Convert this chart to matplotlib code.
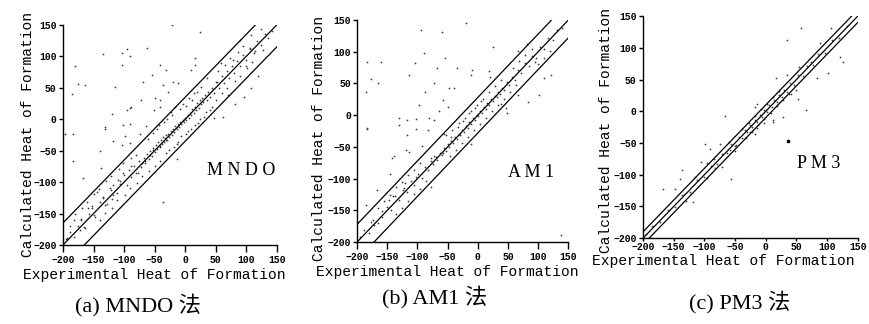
import matplotlib
matplotlib.use("Agg")
import matplotlib.pyplot as plt

plt.rcParams['font.family'] = ['Liberation Mono', 'DejaVu Sans Mono']

tick_vals = [-200, -150, -100, -50, 0, 50, 100, 150]
methods = ["MNDO", "AM1", "PM3"]
captions = ["(a) MNDO 法", "(b) AM1 法", "(c) PM3 法"]
# half widths of the error band (kcal/mol)
band_width = [35, 28, 10]

# ---- MNDO points (experimental, calculated) ----
mndo_pts = [
    (-22, 150), (24, 138), (-180, 84), (-134, 104), (-104, 106), (-96, 111), (-91, 101),
    (-62, 114), (-104, 86), (-175, 56), (-164, 54), (-185, 40), (-115, 52), (-69, 60),
    (-55, 71), (-31, 78), (-41, 86), (-20, 60), (-11, 58), (-36, 55), (-28, 44),
    (-73, 30), (-50, 33), (-41, 31), (-91, 18), (-96, 15), (-88, 19), (-119, 9),
    (-101, -9), (-91, -7), (-131, -12), (-131, -16), (-183, -23), (-64, -11), (-51, 14),
    (-41, 19), (16, 97), (16, 86), (10, 78), (59, 90), (78, 94), (100, 84), (114, 108),
    (108, 134), (124, 143), (119, 68), (108, 49), (97, 35), (81, 24), (62, 3), (48, 2),
    (35, 65), (51, 60), (70, 39), (106, 113), (127, 110), (89, 126),
    (-197, -23), (-183, -66), (-168, -94), (-139, -51), (-118, -34), (-104, -41), (-99, -27),
    (-91, -38), (-74, -23), (-80, -57), (-137, -78), (-144, -115), (-123, -110), (-119, -127),
    (-131, -136), (-182, -161), (-170, -159), (-189, -170), (-159, -142), (-153, -138),
    (-101, -86), (-88, -75), (-77, -86), (-66, -67), (-52, -49), (-41, -43), (-36, -131),
    (-14, -64), (-31, -33), (-71, -70), (-58, -57), (-110, -97), (-107, -103), (-118, -120),
    (-150, -152), (-172, -176), (-164, -173), (-194, -189), (-134, -123),
    (-195, -190), (-188, -180), (-182, -188), (-176, -170), (-170, -160), (-165, -172),
    (-158, -150), (-152, -141), (-147, -155), (-140, -132), (-135, -126), (-128, -135),
    (-122, -112), (-118, -105), (-112, -118), (-106, -98), (-100, -89), (-96, -104),
    (-92, -81), (-88, -92), (-84, -74), (-80, -86), (-76, -66), (-72, -76), (-68, -61),
    (-66, -70), (-62, -55), (-60, -64), (-57, -51), (-55, -58), (-52, -45), (-50, -52),
    (-48, -41), (-46, -48), (-44, -37), (-42, -44), (-40, -33), (-38, -40), (-36, -29),
    (-35, -36), (-33, -30), (-31, -25), (-30, -33), (-28, -23), (-26, -28), (-24, -19),
    (-22, -25), (-20, -15), (-18, -20), (-16, -11), (-14, -16), (-12, -8), (-10, -12),
    (-8, -4), (-6, -8), (-4, -2), (-2, -5), (0, 2), (2, -2), (4, 6), (6, 2), (8, 10),
    (10, 6), (12, 16), (14, 10), (16, 20), (18, 14), (20, 26), (22, 18), (24, 30), (26, 24),
    (28, 34), (30, 28), (32, 38), (35, 30), (38, 44), (40, 36), (44, 50), (48, 42), (52, 60),
    (56, 50), (60, 68), (64, 58), (68, 76), (72, 66), (76, 84), (80, 74), (85, 92), (90, 84),
    (95, 102), (100, 94), (106, 112), (112, 106), (118, 124), (124, 118), (130, 136),
    (136, 130), (142, 140),
    (-61, -31), (-52, -22), (-43, -9), (-29, 1), (-21, 6), (-9, 16), (1, 21), (11, 31),
    (19, 44), (-71, -91), (-59, -83), (-49, -74), (-41, -66), (-31, -54), (-19, -44),
    (-11, -36), (1, -24), (9, -16), (21, -6), (31, 4), (41, 14), (-46, -16), (-34, -4),
    (-24, 11), (-16, 19), (-4, 24), (6, 33), (14, 41), (26, 51), (-26, -49), (-14, -39),
    (-6, -27), (4, -19), (16, -9), (24, 1), (34, 11), (44, 19), (51, 31), (61, 41), (69, 49),
    (81, 61), (89, 69), (101, 81), (109, 91), (54, 76), (66, 87), (74, 97), (86, 107),
    (94, 116), (-89, -61), (-101, -69), (-109, -79), (-121, -91), (-129, -99), (-141, -111),
    (-149, -119), (-161, -131), (-169, -141), (-181, -151), (-79, -101), (-91, -109),
    (-99, -121), (-111, -129), (-119, -141), (-131, -149), (-139, -161),
]

# ---- AM1 points ----
am1_pts = [
    (-20, 146), (-95, 134), (-60, 132), (25, 108), (-90, 98), (-183, 84), (-161, 84),
    (-104, 83), (-55, 91), (-67, 75), (-114, 63), (-35, 75), (-10, 71), (-11, 64),
    (-177, 57), (-165, 50), (-72, 50), (-47, 43), (-40, 43), (-87, 36), (-186, 36),
    (-58, 24), (-97, 16), (-50, 13), (-131, -5), (-118, -8), (-103, -6), (-81, -5),
    (-73, -8), (-64, 6), (-130, -15), (-183, -20), (19, 70), (21, 61), (81, 112), (66, 101),
    (94, 84), (110, 58), (121, 64), (102, 32), (83, 21), (66, 32), (49, 3), (38, 17), (47, 11),
    (-183, -21), (-103, -22), (-83, -23), (-117, -32), (-56, -30), (-139, -65), (-143, -68),
    (-119, -55), (-114, -58), (-145, -93), (-92, -48), (-78, -68), (-103, -97), (-78, -113),
    (-121, -107), (-122, -115), (-167, -118), (-185, -142), (-141, -128), (-147, -134),
    (-172, -173), (-177, -168), (-158, -160), (-11, -46), (-45, -34), (138, -189),
    (-58, -60), (-72, -65),
    (-196, -192), (-189, -181), (-181, -186), (-173, -166), (-166, -170), (-158, -151),
    (-151, -145), (-144, -150), (-137, -128), (-130, -134), (-124, -118), (-117, -121),
    (-111, -104), (-105, -110), (-99, -92), (-93, -99), (-88, -82), (-83, -87), (-78, -73),
    (-74, -77), (-70, -66), (-67, -70), (-63, -59), (-60, -63), (-56, -52), (-53, -56),
    (-50, -46), (-47, -50), (-44, -40), (-41, -44), (-38, -35), (-35, -38), (-32, -29),
    (-29, -32), (-26, -23), (-23, -26), (-20, -17), (-17, -20), (-14, -11), (-11, -14),
    (-8, -5), (-5, -8), (-2, 1), (1, -2), (4, 7), (7, 4), (10, 13), (13, 10), (16, 19),
    (19, 16), (22, 25), (25, 22), (28, 31), (31, 28), (34, 37), (37, 34), (40, 43), (44, 40),
    (48, 52), (52, 47), (57, 61), (62, 56), (67, 71), (72, 66), (78, 82), (84, 78), (90, 94),
    (96, 90), (103, 107), (110, 104), (117, 121), (124, 118), (132, 134), (140, 137),
    (-52, -32), (-42, -24), (-31, -12), (-21, -4), (-11, 6), (-1, 16), (9, 26), (19, 36),
    (29, 46), (39, 55), (-46, -64), (-36, -55), (-26, -44), (-16, -35), (-6, -24), (4, -14),
    (14, -4), (24, 6), (34, 16), (44, 26), (54, 36), (64, 47), (59, 74), (69, 86), (79, 95),
    (89, 104), (99, 80), (109, 90), (119, 101), (-96, -75), (-106, -86), (-116, -95),
    (-126, -106), (-136, -114), (-146, -126), (-156, -136), (-166, -146), (-86, -104),
    (-96, -116), (-106, -125), (-116, -135), (-126, -146), (-136, -156), (-33, -18),
    (-24, -9), (-14, 3), (-4, 12), (6, 22),
]

# ---- PM3 points ----
pm3_pts = [
    (35, 113), (107, 131), (121, 86), (126, 78), (102, 60), (83, 53), (88, 107), (74, 78),
    (55, 70), (65, 2), (50, 33), (53, 20), (42, 28), (17, 52), (34, 57), (28, -9), (12, -14),
    (1, 2), (-15, 12), (-18, 7), (-67, -8), (-2, -19), (58, 131),
    (-99, -52), (-91, -59), (-75, -51), (-105, -80), (-96, -82), (-72, -88),
    (-137, -93), (-140, -106), (-148, -122), (-167, -122), (-118, -143), (-56, -106),
    (-48, -53), (-58, -61), (-83, -90), (-15, -27), (-18, -35), (12, -17), (-26, -32),
    (-196, -194), (-185, -181), (-172, -175), (-160, -156), (-148, -151), (-136, -132),
    (-124, -127), (-112, -108), (-101, -104), (-90, -86), (-80, -83), (-71, -67), (-63, -66),
    (-56, -52), (-50, -54), (-44, -40), (-39, -42), (-34, -30), (-30, -33), (-26, -22),
    (-22, -25), (-18, -14), (-14, -17), (-10, -6), (-6, -9), (-2, 2), (2, -1), (6, 10),
    (10, 7), (14, 18), (18, 15), (22, 26), (26, 23), (30, 34), (34, 31), (40, 44), (46, 42),
    (53, 57), (60, 56), (68, 72), (77, 73), (86, 90), (96, 92), (108, 112), (120, 116),
    (132, 135), (-38, -28), (-28, -18), (-18, -8), (-8, 3), (2, 12), (12, 22), (22, 32),
    (-32, -42), (-22, -32), (-12, -22), (-2, -12), (8, -2), (18, 8), (28, 18), (38, 28),
    (-60, -48), (-50, -62), (-85, -75), (-95, -105), (-115, -103), (-130, -142),
]
# the single heavy blob in the PM3 panel
pm3_blob = (36, -47)

all_pts = [mndo_pts, am1_pts, pm3_pts]

fig = plt.figure(figsize=(8.69, 3.24), dpi=100)
# [left, bottom, width, height]
boxes = [[0.0725, 0.244, 0.246, 0.679],
         [0.411, 0.253, 0.243, 0.685],
         [0.740, 0.265, 0.247, 0.685]]
ylabel_xy = [(-0.131, 0.5), (-0.147, 0.468), (-0.14, 0.486)]
xlabel_xy = [(0.425, -0.105), (0.427, -0.104), (0.373, -0.07)]
xtick_len = [5, 5, 2]
xtick_pad = [2, 2, 1]
name_xy = [(35, -82), (50, -90), (51, -83)]
name_txt = ["M N D O", "A M 1", "P M 3"]
cap_xy = [(138, 305), (435, 297), (740, 302)]

for i in range(3):
    ax = fig.add_axes(boxes[i])
    pts = all_pts[i]
    xs = [p[0] for p in pts]
    ys = [p[1] for p in pts]
    ax.scatter(xs, ys, s=1.6, c='#3a3a3a', linewidths=0, zorder=2)
    if i == 2:
        ax.scatter([pm3_blob[0]], [pm3_blob[1]], s=7, c='black', linewidths=0, zorder=2)
    w = band_width[i]
    ax.plot([-200, 150], [-200, 150], color='black', lw=0.9)
    ax.plot([-200, 150], [-200 + w, 150 + w], color='black', lw=0.9)
    ax.plot([-200, 150], [-200 - w, 150 - w], color='black', lw=0.9)
    ax.set_xlim(-200, 150)
    ax.set_ylim(-200, 150)
    ax.spines['top'].set_visible(False)
    ax.spines['right'].set_visible(False)
    ax.spines['left'].set_linewidth(1.0)
    ax.spines['bottom'].set_linewidth(1.0)
    ax.set_xticks(tick_vals)
    ax.set_yticks(tick_vals)
    ax.tick_params(axis='x', direction='out', length=xtick_len[i], width=1,
                   pad=xtick_pad[i], labelsize=7)
    ax.tick_params(axis='y', direction='out', length=3, width=1, pad=1.5, labelsize=7)
    for lab in ax.get_xticklabels() + ax.get_yticklabels():
        lab.set_fontweight('bold')
    ax.set_ylabel("Calculated Heat of Formation", fontsize=10.5)
    ax.yaxis.set_label_coords(*ylabel_xy[i])
    ax.set_xlabel("Experimental Heat of Formation", fontsize=10.5)
    ax.xaxis.set_label_coords(*xlabel_xy[i])
    ax.text(name_xy[i][0], name_xy[i][1], name_txt[i], fontsize=13, va='center', ha='left',
            family=['Liberation Serif'])
    fig.text(cap_xy[i][0] / 869, 1 - cap_xy[i][1] / 324, captions[i], fontsize=16,
             ha='center', va='center', family=['Liberation Serif', 'Noto Sans CJK SC'])

fig.savefig("out.png", dpi=100)
